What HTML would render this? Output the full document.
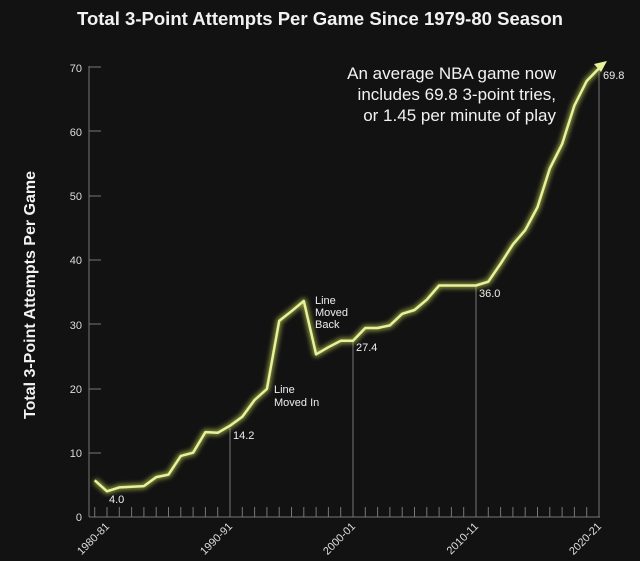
<!DOCTYPE html>
<html><head><style>
html,body{margin:0;padding:0;background:#121212;}
svg{display:block;font-family:"Liberation Sans",sans-serif;}
</style></head><body>
<svg width="640" height="561" viewBox="0 0 640 561" xmlns="http://www.w3.org/2000/svg">
<rect width="640" height="561" fill="#121212"/>
<defs><filter id="g" x="-10%" y="-10%" width="120%" height="120%"><feGaussianBlur stdDeviation="2.5"/></filter></defs>
<text x="320" y="25" text-anchor="middle" fill="#f2f2f2" font-size="18" font-weight="bold" textLength="486" lengthAdjust="spacingAndGlyphs">Total 3-Point Attempts Per Game Since 1979-80 Season</text>
<text transform="translate(35,295) rotate(-90)" text-anchor="middle" fill="#f2f2f2" font-size="16" font-weight="bold">Total 3-Point Attempts Per Game</text>
<g fill="#ddd" font-size="11" text-anchor="end">
<text x="82" y="521">0</text><text x="82" y="457">10</text><text x="82" y="393">20</text><text x="82" y="329">30</text><text x="82" y="264">40</text><text x="82" y="200">50</text><text x="82" y="136">60</text><text x="82" y="72">70</text>
</g>
<g stroke="#777" stroke-width="1">
<line x1="89" y1="66" x2="89" y2="517"/>
<line x1="89" y1="517" x2="600" y2="517"/>
<line x1="89" y1="453" x2="101" y2="453"/><line x1="89" y1="389" x2="101" y2="389"/><line x1="89" y1="324" x2="101" y2="324"/><line x1="89" y1="260" x2="101" y2="260"/><line x1="89" y1="196" x2="101" y2="196"/><line x1="89" y1="131" x2="101" y2="131"/><line x1="89" y1="67" x2="101" y2="67"/>
<line x1="230" y1="517" x2="230" y2="428"/>
<line x1="353" y1="517" x2="353" y2="340"/>
<line x1="476" y1="517" x2="476" y2="285"/>
<line x1="599" y1="517" x2="599" y2="66"/>
<path d="M94.7 507V517M107 507V517M119.3 507V517M131.6 507V517M143.9 507V517M156.2 507V517M168.5 507V517M180.8 507V517M193.1 507V517M205.4 507V517M217.7 507V517M242.3 507V517M254.6 507V517M266.9 507V517M279.2 507V517M291.5 507V517M303.8 507V517M316.1 507V517M328.4 507V517M340.7 507V517M365.3 507V517M377.6 507V517M389.9 507V517M402.2 507V517M414.5 507V517M426.8 507V517M439.1 507V517M451.4 507V517M463.7 507V517M488.3 507V517M500.6 507V517M512.9 507V517M525.2 507V517M537.5 507V517M549.8 507V517M562.1 507V517M574.4 507V517M586.7 507V517"/>
</g>
<g fill="#eee" font-size="11">
<text x="109" y="503">4.0</text><text x="233" y="439">14.2</text><text x="356" y="351">27.4</text><text x="479" y="297">36.0</text><text x="603" y="79">69.8</text>
<text x="274" y="393">Line</text><text x="274" y="406">Moved In</text>
<text x="315" y="304">Line</text><text x="315" y="316">Moved</text><text x="315" y="328">Back</text>
</g>
<g fill="#f2f2f2" font-size="17" text-anchor="end">
<text x="556" y="79">An average NBA game now</text>
<text x="556" y="100">includes 69.8 3-point tries,</text>
<text x="556" y="121">or 1.45 per minute of play</text>
</g>
<g fill="#ddd" font-size="11" text-anchor="end">
<text transform="translate(110,527) rotate(-45)">1980-81</text>
<text transform="translate(233,527) rotate(-45)">1990-91</text>
<text transform="translate(356,527) rotate(-45)">2000-01</text>
<text transform="translate(479,527) rotate(-45)">2010-11</text>
<text transform="translate(602,527) rotate(-45)">2020-21</text>
</g>
<g fill="none" stroke-linejoin="round">
<polyline stroke="#cfe05a" stroke-width="6" opacity="0.6" filter="url(#g)" points="94.7,480.3 107,491.3 119.3,487.4 131.6,486.8 143.9,486.1 156.2,477.1 168.5,474.6 180.8,455.9 193.1,452.7 205.4,432.1 217.7,432.8 230,425.7 242.3,416.7 254.6,400 266.9,389 279.2,320.9 291.5,311.2 303.8,301 316.1,354.3 328.4,347.2 340.7,340.8 353,340.8 365.3,328 377.6,328 389.9,325.4 402.2,313.8 414.5,310 426.8,299.7 439.1,285.5 451.4,285.5 463.7,285.5 476,285.5 488.3,281.7 500.6,263.7 512.9,244.4 525.2,230.2 537.5,207.1 549.8,168.5 562.1,144.1 574.4,105.5 586.7,81 599,68.2"/>
<polyline stroke="#e8f29a" stroke-width="2.5" points="94.7,480.3 107,491.3 119.3,487.4 131.6,486.8 143.9,486.1 156.2,477.1 168.5,474.6 180.8,455.9 193.1,452.7 205.4,432.1 217.7,432.8 230,425.7 242.3,416.7 254.6,400 266.9,389 279.2,320.9 291.5,311.2 303.8,301 316.1,354.3 328.4,347.2 340.7,340.8 353,340.8 365.3,328 377.6,328 389.9,325.4 402.2,313.8 414.5,310 426.8,299.7 439.1,285.5 451.4,285.5 463.7,285.5 476,285.5 488.3,281.7 500.6,263.7 512.9,244.4 525.2,230.2 537.5,207.1 549.8,168.5 562.1,144.1 574.4,105.5 586.7,81 599,68.2"/>
</g>
<polygon points="607,61 594,64 601,72" fill="#e8f29a"/>
</svg>
</body></html>
